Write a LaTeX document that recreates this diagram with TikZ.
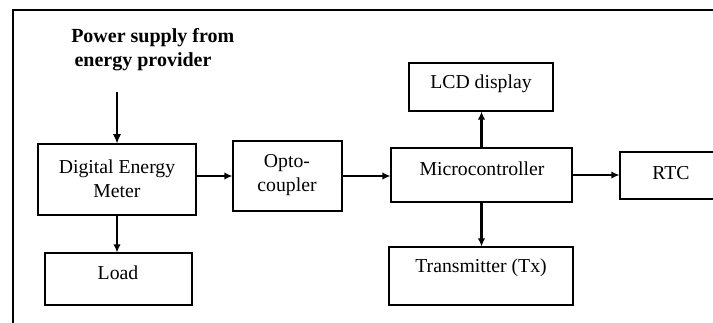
\documentclass[tikz,border=0pt]{standalone}
\usepackage{fontspec}
\setmainfont{Liberation Serif}
\usetikzlibrary{arrows.meta}
\begin{document}
\begin{tikzpicture}[x=0.75pt,y=-0.75pt,
  blk/.style={draw=black, line width=0.8pt, inner sep=0pt},
  txt/.style={font=\fontsize{14.8}{18}\selectfont, align=center, inner sep=0pt},
  thickarrow/.style={draw=black, line width=1.6pt, -{Latex[length=6pt,width=5.5pt]}},
  thinarrow/.style={draw=black, line width=0.8pt, -{Latex[length=7pt,width=6pt]}},
  frame/.style={draw=black, line width=1.6pt}]
\fill[white] (0,0) rectangle (713,322);
\useasboundingbox (0,0) rectangle (713,322);
\clip (0,0) rectangle (713,322);
% frame
\draw[frame] (13,323) -- (13,10) -- (714,10);
% boxes
\node[blk, minimum width=118.5pt, minimum height=53.25pt] (dem) at (117,179.5) {};
\node[blk, minimum width=81.75pt, minimum height=52.5pt] (opto) at (287.5,176) {};
\node[blk, minimum width=110.25pt, minimum height=39pt] (load) at (118.5,279) {};
\node[blk, minimum width=108pt, minimum height=36pt] (lcd) at (481,87) {};
\node[blk, minimum width=135.75pt, minimum height=40.5pt] (mcu) at (481.5,175) {};
\node[blk, minimum width=138pt, minimum height=43.5pt] (tx) at (481,276) {};
\node[blk, minimum width=75pt, minimum height=35.25pt] (rtc) at (670,175.5) {};
% texts
\node[txt] (demt) at (117,179) {Digital Energy\\Meter};
\node[txt] (optot) at (287,175) {Opto-\\coupler};
\node[txt] (loadt) at (118,273) {Load};
\node[txt] (lcdt) at (481,84) {LCD display};
\node[txt] (mcut) at (482,169) {Microcontroller};
\node[txt] (txt1) at (481,268) {Transmitter (Tx)};
\node[txt] (rtct) at (671,173) {RTC};
\node[txt, font=\fontsize{15}{18}\selectfont\bfseries, align=left, anchor=west] (title) at (71,50) {Power supply from\\\hspace*{2.5pt}energy provider};
% connectors
\coordinate (pin) at (117,92);
\draw[thinarrow] (pin) -- (dem.north);
\draw[thickarrow] (dem.south) -- (dem.south |- load.north);
\draw[thickarrow] (opto.west -| dem.east) -- (opto.west);
\draw[thickarrow] (opto.east) -- (opto.east -| mcu.west);
\draw[thickarrow] (mcu.east) -- (mcu.east -| rtc.west);
\draw[thickarrow] (mcu.north) -- (mcu.north |- lcd.south);
\draw[thickarrow] (mcu.south) -- (mcu.south |- tx.north);
\end{tikzpicture}
\end{document}
